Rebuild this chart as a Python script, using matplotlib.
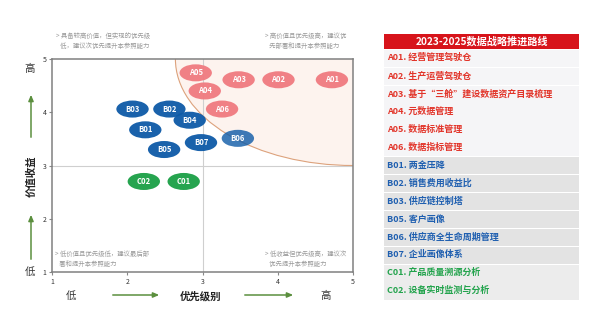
import matplotlib.pyplot as plt
from matplotlib.patches import Ellipse, Rectangle

plt.rcParams['font.family'] = ['Noto Sans CJK SC', 'DejaVu Sans']

# 图上各项目的位置
codes = ['A05', 'A03', 'A02', 'A01', 'A04', 'A06',
         'B03', 'B02', 'B04', 'B01', 'B05', 'B07', 'B06', 'C02', 'C01']
priority = [2.91, 3.48, 4.01, 4.72, 3.03, 3.26,
            2.07, 2.56, 2.83, 2.24, 2.49, 2.98, 3.47, 2.22, 2.75]
value = [4.74, 4.61, 4.61, 4.61, 4.40, 4.06,
         4.06, 4.06, 3.85, 3.67, 3.30, 3.43, 3.51, 2.70, 2.70]

# 右侧路线表
title = '2023-2025数据战略推进路线'
roadmap = ['A01. 经营管理驾驶仓', 'A02. 生产运营驾驶仓', 'A03. 基于“三舱”建设数据资产目录梳理',
           'A04. 元数据管理', 'A05. 数据标准管理', 'A06. 数据指标管理',
           'B01. 两金压降', 'B02. 销售费用收益比', 'B03. 供应链控制塔', 'B05. 客户画像',
           'B06. 供应商全生命周期管理', 'B07. 企业画像体系',
           'C01. 产品质量溯源分析', 'C02. 设备实时监测与分析']

notes = ['> 具备较高价值，但实现的优先级\n   低，建议次优先提升本参照能力',
         '> 高价值且优先级高，建议优\n   先部署和提升本参照能力',
         '> 低价值且优先级低，建议最后部\n   署和提升本参照能力',
         '> 低收益但优先级高，建议次\n   优先提升本参照能力']

colors = {'A': '#f07a80', 'B': '#0d5aa7', 'C': '#1a9f45'}
text_colors = {'A': '#e2352a', 'B': '#1f5fb0', 'C': '#22a34c'}
row_bg = {'A': '#f5f5f7', 'B': '#e3e3e3', 'C': '#ececec'}

fig = plt.figure(figsize=(6, 3.14), dpi=100)
W, H = 600, 314


def fx(px):
    return px / W


def fy(py):
    return 1 - py / H


ax = fig.add_axes([fx(52), fy(272), (353 - 52) / W, (272 - 59) / H])
ax.set_xlim(1, 5)
ax.set_ylim(1, 5)
ax.set_xticks([1, 2, 3, 4, 5])
ax.set_yticks([1, 2, 3, 4, 5])
ax.tick_params(labelsize=5, length=2, color='#888888', labelcolor='#333333', pad=2)
for s in ax.spines.values():
    s.set_color('#808080')
    s.set_linewidth(1.1)

bg = Ellipse((5, 5), 2 * 2.36, 2 * 2.0, facecolor='#fdf3ee', edgecolor='#dda27c', lw=0.8, zorder=0)
ax.add_patch(bg)
bg.set_clip_path(ax.patch)
ax.axvline(3, color='#cfcfcf', lw=0.8, zorder=1)
ax.axhline(3, color='#cfcfcf', lw=0.8, zorder=1)

for c, x, y in zip(codes, priority, value):
    g = c[0]
    alpha = 0.8 if c == 'B06' else 0.95
    ax.add_patch(Ellipse((x, y), 0.43, 0.32, facecolor=colors[g], edgecolor='none',
                         alpha=alpha, zorder=3))
    ax.text(x, y, c, color='white', fontsize=5.5, fontweight='bold',
            ha='center', va='center', zorder=4)

# 象限说明
note_pos = [(56, 41), (265, 41), (55, 259), (265, 259)]
for t, (px, py) in zip(notes, note_pos):
    fig.text(fx(px), fy(py), t, fontsize=4.6, color='#9a9a9a', ha='left', va='center',
             linespacing=1.3)

# 坐标轴说明
green = '#5b8f3e'
fig.text(fx(30), fy(69), '高', fontsize=7.5, color='#333333', ha='center', va='center')
fig.text(fx(30), fy(272), '低', fontsize=7.5, color='#333333', ha='center', va='center')
fig.text(fx(31), fy(176), '价值收益', fontsize=7.5, fontweight='bold', rotation=90,
         ha='center', va='center', color='#222222')
fig.text(fx(71), fy(296), '低', fontsize=7.5, color='#333333', ha='center', va='center')
fig.text(fx(326), fy(296), '高', fontsize=7.5, color='#333333', ha='center', va='center')
fig.text(fx(201), fy(296), '优先级别', fontsize=7.5, fontweight='bold', ha='center', va='center',
         color='#222222')
arrow = dict(arrowstyle='-|>,head_length=0.35,head_width=0.15', color=green, lw=1.1)
for (x0, y0, x1, y1) in [(31, 140, 31, 92), (31, 262, 31, 212), (110, 295, 162, 295), (242, 295, 296, 295)]:
    fig.add_artist(plt.Annotation('', xy=(fx(x1), fy(y1)), xytext=(fx(x0), fy(y0)),
                                  xycoords='figure fraction', arrowprops=arrow))

# 右侧表格
tx0, tx1 = 384, 579
fig.add_artist(Rectangle((fx(tx0), fy(49)), (tx1 - tx0) / W, 15 / H, facecolor='#d7141b',
                         edgecolor='none', transform=fig.transFigure))
fig.text(fx((tx0 + tx1) / 2), fy(41.5), title, color='white', fontsize=7.3, fontweight='bold',
         ha='center', va='center')
pitch = 17.9
for i, item in enumerate(roadmap):
    g = item[0]
    top = 49 + i * pitch
    fig.add_artist(Rectangle((fx(tx0), fy(top + pitch)), (tx1 - tx0) / W, (pitch - 0.8) / H,
                             facecolor=row_bg[g], edgecolor='none', transform=fig.transFigure))
    fig.text(fx(tx0 + 3), fy(top + pitch / 2), item, color=text_colors[g], fontsize=6.5,
             fontweight='bold', ha='left', va='center')

fig.savefig('out.png', dpi=100, facecolor='white')
